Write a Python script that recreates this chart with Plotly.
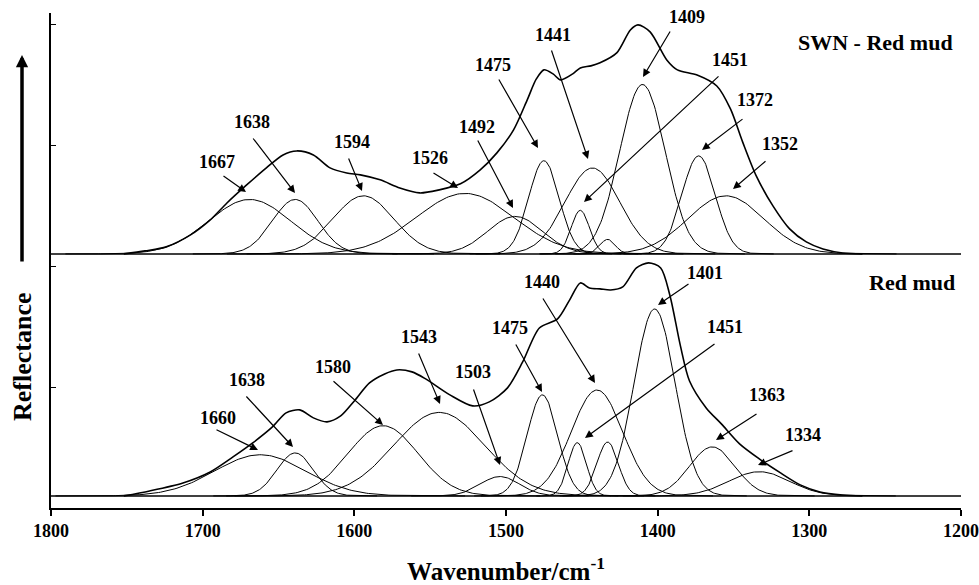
import numpy as np
import plotly.graph_objects as go

# ---------------- data ----------------
# Band fits: centre (cm-1), height (a.u.), width sigma (cm-1)
top_centers = [1669, 1639, 1594, 1527, 1494, 1475, 1451, 1443, 1433, 1410, 1373, 1355]
top_heights = [0.45, 0.45, 0.48, 0.50, 0.31, 0.77, 0.36, 0.71, 0.12, 1.40, 0.81, 0.48]
top_sigmas = [27, 15, 20, 32, 18, 10, 6, 18, 5, 15, 11, 25]

bot_centers = [1662, 1639, 1581, 1544, 1504, 1476, 1453, 1440, 1433, 1402, 1364, 1333]
bot_heights = [0.34, 0.355, 0.58, 0.69, 0.16, 0.835, 0.44, 0.875, 0.445, 1.545, 0.405, 0.20]
bot_sigmas = [30, 12, 23, 30, 13, 10, 6, 17, 7, 13.5, 15, 20]

# Measured spectra (envelopes): wavenumber and reflectance above baseline
top_env_wn = [1752, 1738, 1724, 1708, 1695, 1684, 1671, 1658, 1647, 1638, 1627, 1616, 1605,
              1596, 1583, 1570, 1557, 1544, 1530, 1517, 1506, 1495, 1486, 1480, 1475, 1469,
              1464, 1456, 1451, 1444, 1438, 1427, 1418, 1413, 1405, 1394, 1387, 1374, 1361,
              1352, 1344, 1335, 1324, 1313, 1302, 1291, 1278, 1265]
top_env_val = [0.0, 0.025, 0.058, 0.157, 0.281, 0.421, 0.570, 0.711, 0.818, 0.851, 0.818,
               0.711, 0.669, 0.653, 0.612, 0.545, 0.504, 0.529, 0.579, 0.694, 0.835, 1.025,
               1.273, 1.446, 1.521, 1.488, 1.438, 1.488, 1.537, 1.554, 1.579, 1.661, 1.851,
               1.893, 1.835, 1.603, 1.521, 1.479, 1.388, 1.198, 0.926, 0.645, 0.397, 0.207,
               0.099, 0.041, 0.008, 0.0]

bot_env_wn = [1752, 1735, 1713, 1695, 1680, 1667, 1654, 1645, 1636, 1627, 1618, 1609, 1600,
              1590, 1580, 1572, 1562, 1553, 1537, 1522, 1511, 1499, 1489, 1478, 1466, 1458,
              1451, 1445, 1438, 1431, 1423, 1414, 1406, 1398, 1392, 1385, 1379, 1368, 1358,
              1346, 1333, 1319, 1306, 1293, 1278, 1265]
bot_env_val = [0.0, 0.041, 0.107, 0.198, 0.322, 0.438, 0.570, 0.686, 0.711, 0.645, 0.612,
               0.661, 0.785, 0.934, 1.008, 1.041, 1.025, 0.967, 0.835, 0.744, 0.777, 0.893,
               1.107, 1.388, 1.463, 1.620, 1.760, 1.719, 1.711, 1.702, 1.727, 1.884, 1.926,
               1.884, 1.661, 1.240, 0.950, 0.727, 0.595, 0.430, 0.306, 0.190, 0.091, 0.033,
               0.008, 0.0]

top_offset = 2.1
bot_offset = 0.1

x_ticks = [1800, 1700, 1600, 1500, 1400, 1300, 1200]

# peak labels: text, text position (px), arrow tail (px), arrow tip (px)
top_labels = [
    ("1667", 217, 162, 222, 175, 246, 192),
    ("1638", 252, 122, 252, 137, 295, 193),
    ("1594", 352, 142, 348, 157, 362, 191),
    ("1526", 430, 158, 432, 172, 458, 188),
    ("1492", 477, 127, 477, 139, 513, 208),
    ("1475", 493, 65, 498, 78, 538, 148),
    ("1441", 553, 35, 551, 49, 588, 159),
    ("1409", 687, 17, 671, 30, 643, 77),
    ("1451", 730, 60, 720, 75, 584, 202),
    ("1372", 755, 100, 744, 118, 702, 150),
    ("1352", 780, 144, 767, 160, 733, 189),
]
bot_labels = [
    ("1660", 218, 418, 215, 429, 258, 450),
    ("1638", 247, 380, 245, 395, 293, 447),
    ("1580", 333, 367, 332, 380, 383, 425),
    ("1543", 419, 337, 418, 352, 440, 404),
    ("1503", 473, 372, 473, 388, 500, 465),
    ("1475", 510, 328, 515, 343, 542, 392),
    ("1440", 542, 282, 542, 297, 595, 383),
    ("1401", 705, 273, 690, 283, 658, 305),
    ("1451", 725, 327, 716, 343, 585, 438),
    ("1363", 767, 395, 758, 413, 716, 440),
    ("1334", 803, 435, 794, 450, 758, 465),
]

# ---------------- layout constants ----------------
W, H = 979, 585
ML, MR, MT, MB = 51, 18, 13, 77
PW = W - ML - MR
PH = H - MT - MB
Y_PER_PX = 1 / 121.0
Y_MAX = PH * Y_PER_PX

SERIF = "Liberation Serif, Times New Roman, serif"


def wn_of(px):
    return 1800 - (px - ML) * 600.0 / PW


def y_of(py):
    return (H - MB - py) * Y_PER_PX


fig = go.Figure()

line_style = dict(color="black", width=1)


def add_bands(centers, heights, sigmas, offset):
    for c, h, s in zip(centers, heights, sigmas):
        xs = np.linspace(c - 4.5 * s, c + 4.5 * s, 200)
        ys = offset + h * np.exp(-((xs - c) ** 2) / (2 * s * s))
        fig.add_trace(go.Scatter(x=xs, y=ys, mode="lines", line=line_style,
                                 hoverinfo="skip", showlegend=False))


# baselines
for off in (top_offset, bot_offset):
    fig.add_trace(go.Scatter(x=[1800, 1200], y=[off, off], mode="lines",
                             line=dict(color="black", width=1.5), showlegend=False,
                             hoverinfo="skip"))

add_bands(top_centers, top_heights, top_sigmas, top_offset)
add_bands(bot_centers, bot_heights, bot_sigmas, bot_offset)

fig.add_trace(go.Scatter(x=top_env_wn, y=[top_offset + v for v in top_env_val], mode="lines",
                         line=dict(color="black", width=1.6, shape="spline", smoothing=0.8),
                         showlegend=False))
fig.add_trace(go.Scatter(x=bot_env_wn, y=[bot_offset + v for v in bot_env_val], mode="lines",
                         line=dict(color="black", width=1.6, shape="spline", smoothing=0.8),
                         showlegend=False))

annotations = []
label_font = dict(family=SERIF, size=18, color="black", weight="bold")
for lab in top_labels + bot_labels:
    t, tx, ty, sx, sy, hx, hy = lab
    annotations.append(dict(x=wn_of(tx), y=y_of(ty), xref="x", yref="y", text=t,
                            showarrow=False, font=label_font,
                            xanchor="center", yanchor="middle"))
    annotations.append(dict(x=wn_of(hx), y=y_of(hy), xref="x", yref="y", text="",
                            showarrow=True, ax=wn_of(sx), ay=y_of(sy), axref="x", ayref="y",
                            arrowhead=2, arrowsize=1.3, arrowwidth=1.2, arrowcolor="black"))

title_font = dict(family=SERIF, size=22, color="black", weight="bold")
annotations.append(dict(x=(955 - ML) / PW, y=(H - MB - 42) / PH, xref="paper", yref="paper",
                        text="SWN - Red mud", showarrow=False, font=title_font,
                        xanchor="right", yanchor="middle"))
annotations.append(dict(x=(957 - ML) / PW, y=(H - MB - 282) / PH, xref="paper", yref="paper",
                        text="Red mud", showarrow=False, font=title_font,
                        xanchor="right", yanchor="middle"))

# y-axis label and direction arrow
annotations.append(dict(x=(22 - ML) / PW, y=(H - MB - 357) / PH, xref="paper", yref="paper",
                        text="Reflectance", textangle=-90, showarrow=False,
                        font=dict(family=SERIF, size=26, color="black", weight="bold"),
                        xanchor="center", yanchor="middle"))
annotations.append(dict(x=(22 - ML) / PW, y=(H - MB - 55) / PH, xref="paper", yref="paper",
                        text="", showarrow=True, ax=0, ay=208, axref="pixel", ayref="pixel",
                        arrowhead=2, arrowsize=0.7, arrowwidth=3.5, arrowcolor="black"))

fig.update_layout(
    width=W, height=H,
    margin=dict(l=ML, r=MR, t=MT, b=MB, autoexpand=False),
    paper_bgcolor="white", plot_bgcolor="white",
    annotations=annotations,
    showlegend=False,
    xaxis=dict(range=[1800, 1200], tickvals=x_ticks, ticktext=[str(v) for v in x_ticks],
               automargin=False,
               showgrid=False, zeroline=False, showline=True, linecolor="black", linewidth=1.5,
               ticks="outside", ticklen=6, tickwidth=1.5, tickcolor="black",
               tickfont=dict(family=SERIF, size=18, color="black", weight="bold"),
               title=dict(text="Wavenumber/cm<sup>-1</sup>", standoff=25,
                          font=dict(family=SERIF, size=25, color="black", weight="bold"))),
    yaxis=dict(range=[0, Y_MAX], dtick=1, tick0=0, showticklabels=False, showgrid=False,
               automargin=False,
               zeroline=False, showline=True, linecolor="black", linewidth=1.5,
               ticks="inside", ticklen=5, tickwidth=1.2, tickcolor="black"),
)

fig.write_html("out.html", config={"displayModeBar": False},
               post_script="document.body.style.margin='0';document.body.style.overflow='hidden';")
